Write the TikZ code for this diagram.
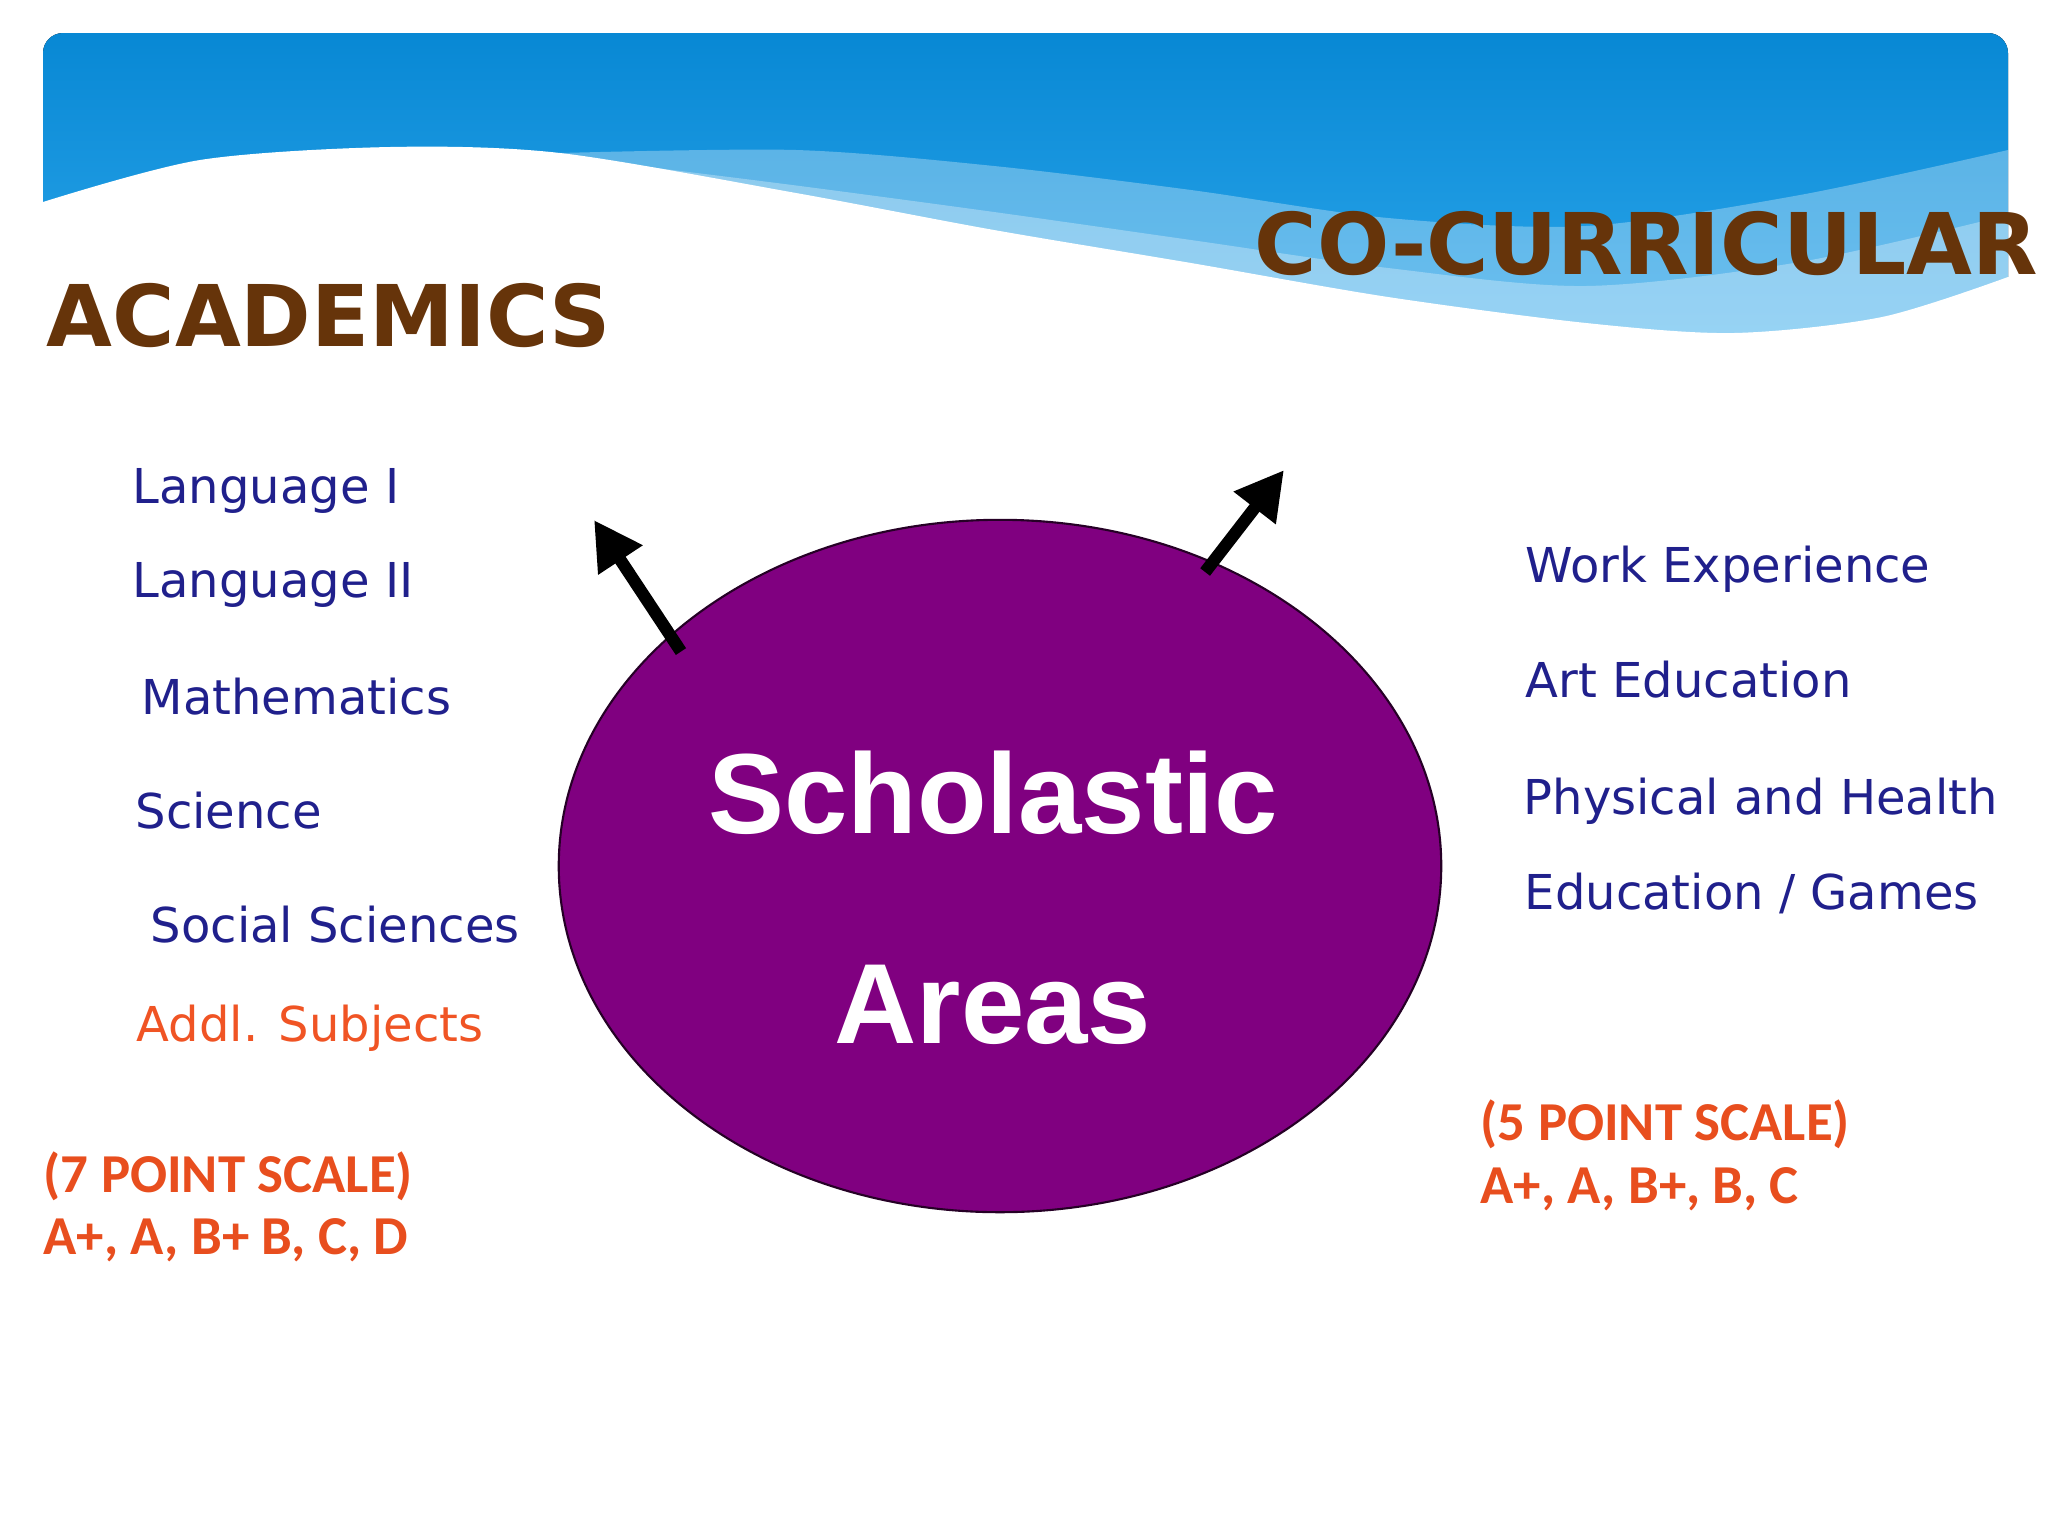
\documentclass[tikz,border=0pt]{standalone}
\usepackage{fontspec}
\usetikzlibrary{positioning, shapes.geometric, arrows.meta}
\newfontfamily\subjfont{DejaVu Sans}
\newfontfamily\gradefont{Carlito}
\newfontfamily\areafont{Liberation Sans}
\definecolor{bannertop}{RGB}{8,136,212}
\definecolor{bannerbot}{RGB}{46,168,236}
\definecolor{headbrown}{RGB}{102,52,10}
\definecolor{subjblue}{RGB}{32,32,140}
\definecolor{addlred}{RGB}{240,84,36}
\definecolor{gradered}{RGB}{232,78,30}
\definecolor{schpurple}{RGB}{128,0,128}

\begin{document}
\begin{tikzpicture}[x=0.01cm, y=-0.01cm,
    heading/.style={inner sep=0, anchor=base west, text=headbrown,
      font=\subjfont\bfseries\fontsize{24.2}{29}\selectfont},
    subject/.style={inner sep=0, anchor=base west, text=subjblue,
      font=\subjfont\fontsize{13.66}{16}\selectfont},
    grade/.style={inner sep=0, anchor=base west, text=gradered,
      font=\gradefont\bfseries\fontsize{15.6}{19}\selectfont},
    area/.style={inner sep=0, anchor=base, text=white,
      font=\areafont\bfseries\fontsize{32.4}{38}\selectfont},
    bigarrow/.style={line width=3.5pt, -{Triangle[length=0.48cm, width=0.5cm]}}]
    \useasboundingbox (0,0) rectangle (2048,1536);
    \fill[white] (0,0) rectangle (2048,1536);
    % banner with wave
    \fill[top color=bannertop, bottom color=bannerbot, rounded corners=0.2cm] (43,33) rectangle (2008,360);
    \fill[white, opacity=0.3] plot[smooth] coordinates {(560,153) (796,150) (994,166) (1191,190) (1388,218) (1586,226) (1800,195) (2008,150)}
      -- (2008,400) -- (560,400) -- cycle;
    \fill[white, opacity=0.3] plot[smooth] coordinates {(640,166) (800,186) (994,212) (1191,240) (1388,268) (1586,286) (1800,262) (2008,215)}
      -- (2008,400) -- (640,400) -- cycle;
    \fill[white] plot[smooth] coordinates {(43,202) (200,160) (390,147) (560,153) (796,193) (994,230) (1191,263) (1388,297) (1586,323) (1734,333) (1882,317) (2008,277)}
      -- (2030,277) -- (2030,420) -- (30,420) -- (30,202) -- cycle;
    % headings
    \node (acad) [heading] at (46,346) {ACADEMICS};
    \node (cocurr) [heading] at (1254,274) {CO-CURRICULAR};
    % centre
    \node (ell) [ellipse, fill=schpurple, draw=black!70!schpurple, line width=0.6pt,
      minimum width=8.82cm, minimum height=6.92cm, inner sep=0] at (1000,866) {};
    \node (schol) [area] at (993,833) {Scholastic};
    \node (areas) [area, below=2.1cm of schol.base, anchor=base] {Areas};
    \coordinate (tipl) at (594,520);
    \coordinate (tipr) at (1284,470);
    \draw[bigarrow, shorten <=-0.2cm] (ell.145.5) -- (tipl);
    \draw[bigarrow, shorten <=-0.13cm] (ell.55.8) -- (tipr);
    % academics
    \node (lang1) [subject] at (132,503) {Language I};
    \node (lang2) [subject, below=0.94cm of lang1.base west, anchor=base west] {Language II};
    \node (maths) [subject, below=1.17cm of lang2.base west, anchor=base west, xshift=0.09cm] {Mathematics};
    \node (sci) [subject, below=1.14cm of maths.base west, anchor=base west, xshift=-0.06cm] {Science};
    \node (socsci) [subject, below=1.14cm of sci.base west, anchor=base west, xshift=0.15cm] {Social Sciences};
    \node (addl) [subject, text=addlred, below=0.99cm of socsci.base west, anchor=base west, xshift=-0.14cm] {Addl. Subjects};
    \node (seven) [grade] at (43,1192) {(7 POINT SCALE)};
    \node (sevenlist) [grade, below=0.62cm of seven.base west, anchor=base west] {A+, A, B+ B, C, D};
    % co-curricular
    \node (work) [subject] at (1525,582) {Work Experience};
    \node (art) [subject, below=1.15cm of work.base west, anchor=base west] {Art Education};
    \node (phys) [subject, below=1.17cm of art.base west, anchor=base west, xshift=-0.02cm] {Physical and Health};
    \node (educ) [subject, below=0.95cm of phys.base west, anchor=base west, xshift=0.01cm] {Education / Games};
    \node (five) [grade] at (1480,1140) {(5 POINT SCALE)};
    \node (fivelist) [grade, below=0.63cm of five.base west, anchor=base west] {A+, A, B+, B, C};
\end{tikzpicture}
\end{document}
